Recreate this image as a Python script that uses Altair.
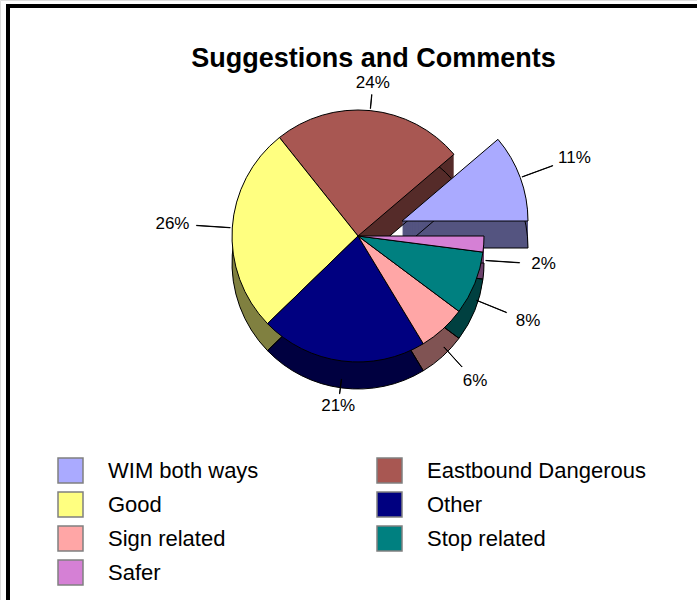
import math
import altair as alt
import pandas as pd

# ---- data ----
categories = ["WIM both ways", "Eastbound Dangerous", "Good", "Other",
              "Sign related", "Stop related", "Safer"]
percent = [11, 24, 26, 21, 6, 8, 2]
top_colors = ["#AAAAFF", "#A85752", "#FFFF80", "#000080", "#FFA6A6", "#008080", "#D580D5"]
side_colors = ["#545480", "#552B29", "#808040", "#000040", "#805353", "#004040", "#6B406B"]
legend_order = ["WIM both ways", "Good", "Sign related", "Safer",
                "Eastbound Dangerous", "Other", "Stop related"]

df = pd.DataFrame({
    "cat": categories,
    "value": percent,
    "label": [f"{p}%" for p in percent],
    "idx": list(range(len(categories))),
    "side": side_colors,
})
total = float(sum(percent))

# ---- geometry / style ----
W, H = 697, 600
CX, CY = 358, 236
R = 126
DEPTH = 27
EX, EY = 44, -15          # explode offset of first slice
FONT = "Liberation Sans"

theta_scale = alt.Scale(domain=[0, total], range=[math.pi / 2, math.pi / 2 + 2 * math.pi])
top_scale = alt.Scale(domain=categories, range=top_colors)

base = (
    alt.Chart(df)
    .transform_window(cum="sum(value)", sort=[alt.SortField("idx", order="descending")])
    .transform_calculate(start="datum.cum - datum.value",
                         mid="datum.cum - datum.value / 2",
                         mid2="datum.cum - datum.value / 2 + 0.03",
                         frac="(datum.cum - datum.value / 2) / %f" % total)
    .transform_calculate(hs="abs(sin(PI / 2 + datum.frac * 2 * PI))")
    .transform_calculate(lr="%d + 24 + 36 * datum.hs" % R,
                         lo="%d + 14 + 22 * datum.hs" % R)
)

first = categories[0]
main = base.transform_filter(alt.datum.cat != first)
expl = base.transform_filter(alt.datum.cat == first)

theta_enc = dict(
    theta=alt.Theta("start:Q", scale=theta_scale, stack=None),
    theta2=alt.Theta2("cum:Q"),
    x=alt.value(CX), y=alt.value(CY),
)

layers = []
# side (depth) layers
for k in range(1, DEPTH + 1):
    layers.append(main.mark_arc(radius=R, yOffset=k, strokeWidth=0).encode(
        color=alt.Color("side:N", scale=None), **theta_enc))
for k in range(1, DEPTH + 1):
    layers.append(expl.mark_arc(radius=R, xOffset=EX, yOffset=EY + k, strokeWidth=0).encode(
        color=alt.Color("side:N", scale=None), **theta_enc))
# bottom outline
layers.append(main.mark_arc(radius=R, yOffset=DEPTH, fillOpacity=0, stroke="black", strokeWidth=1).encode(**theta_enc))
layers.append(expl.mark_arc(radius=R, xOffset=EX, yOffset=EY + DEPTH, fillOpacity=0, stroke="black", strokeWidth=1).encode(**theta_enc))

legend = alt.Legend(
    orient="none", legendX=57, legendY=457, columns=2, title=None, values=legend_order,
    symbolType="square", symbolSize=625, symbolStrokeColor="#808080", symbolStrokeWidth=1.5,
    symbolOpacity=1, labelFont=FONT, labelFontSize=22, labelColor="black",
    labelOffset=24, columnPadding=115, rowPadding=3, padding=0, labelLimit=400,
)
# legend carrier (invisible) and top faces
layers.append(base.mark_arc(radius=R, stroke="black", strokeWidth=1, opacity=0).encode(
    color=alt.Color("cat:N", scale=top_scale, legend=legend), **theta_enc))
layers.append(main.mark_arc(radius=R, stroke="black", strokeWidth=1, opacity=1).encode(
    fill=alt.Fill("cat:N", scale=top_scale, legend=None), **theta_enc))
layers.append(expl.mark_arc(radius=R, xOffset=EX, yOffset=EY, stroke="black", strokeWidth=1, opacity=1).encode(
    fill=alt.Fill("cat:N", scale=top_scale, legend=None), **theta_enc))

# leader lines and labels (lower half ones sit below the side)
upper = "datum.frac >= 0.5"
lower = "datum.frac < 0.5"
for cond, dy in ((upper, 0), (lower, DEPTH * 0.6)):
    for data, ox, oy in ((main, 0, 0), (expl, EX, EY)):
        d = data.transform_filter(cond)
        layers.append(d.mark_arc(xOffset=ox, yOffset=oy + dy,
                                 fillOpacity=0, stroke="black", strokeWidth=1).encode(
            theta=alt.Theta("mid:Q", scale=theta_scale, stack=None),
            theta2=alt.Theta2("mid2:Q"),
            radius=alt.Radius("lo:Q", scale=None),
            radius2=alt.Radius2(value=R + 2),
            x=alt.value(CX), y=alt.value(CY)))
        layers.append(d.mark_text(xOffset=ox, yOffset=oy + dy, font=FONT, fontSize=17,
                                  color="black").encode(
            theta=alt.Theta("mid:Q", scale=theta_scale, stack=None),
            radius=alt.Radius("lr:Q", scale=None),
            text=alt.Text("label:N"),
            x=alt.value(CX), y=alt.value(CY)))

# frame (top and left edges)
layers.append(alt.Chart(df).mark_rule(color="black", strokeWidth=3).encode(
    x=alt.value(6), x2=alt.value(W + 2), y=alt.value(6)))
layers.append(alt.Chart(df).mark_rule(color="black", strokeWidth=3).encode(
    x=alt.value(8), y=alt.value(5), y2=alt.value(H + 2)))

chart = (
    alt.layer(*layers)
    .properties(
        width=W, height=H, padding=0, autosize="none",
        title=alt.TitleParams("Suggestions and Comments", font=FONT, fontSize=27, fontWeight="bold",
                              color="black", anchor="middle", frame="group", offset=0,
                              baseline="alphabetic", dx=25, dy=94),
    )
    .configure_view(stroke=None)
    .configure(background="white")
)

chart.save("out.html", embed_options={"renderer": "svg", "actions": False})
